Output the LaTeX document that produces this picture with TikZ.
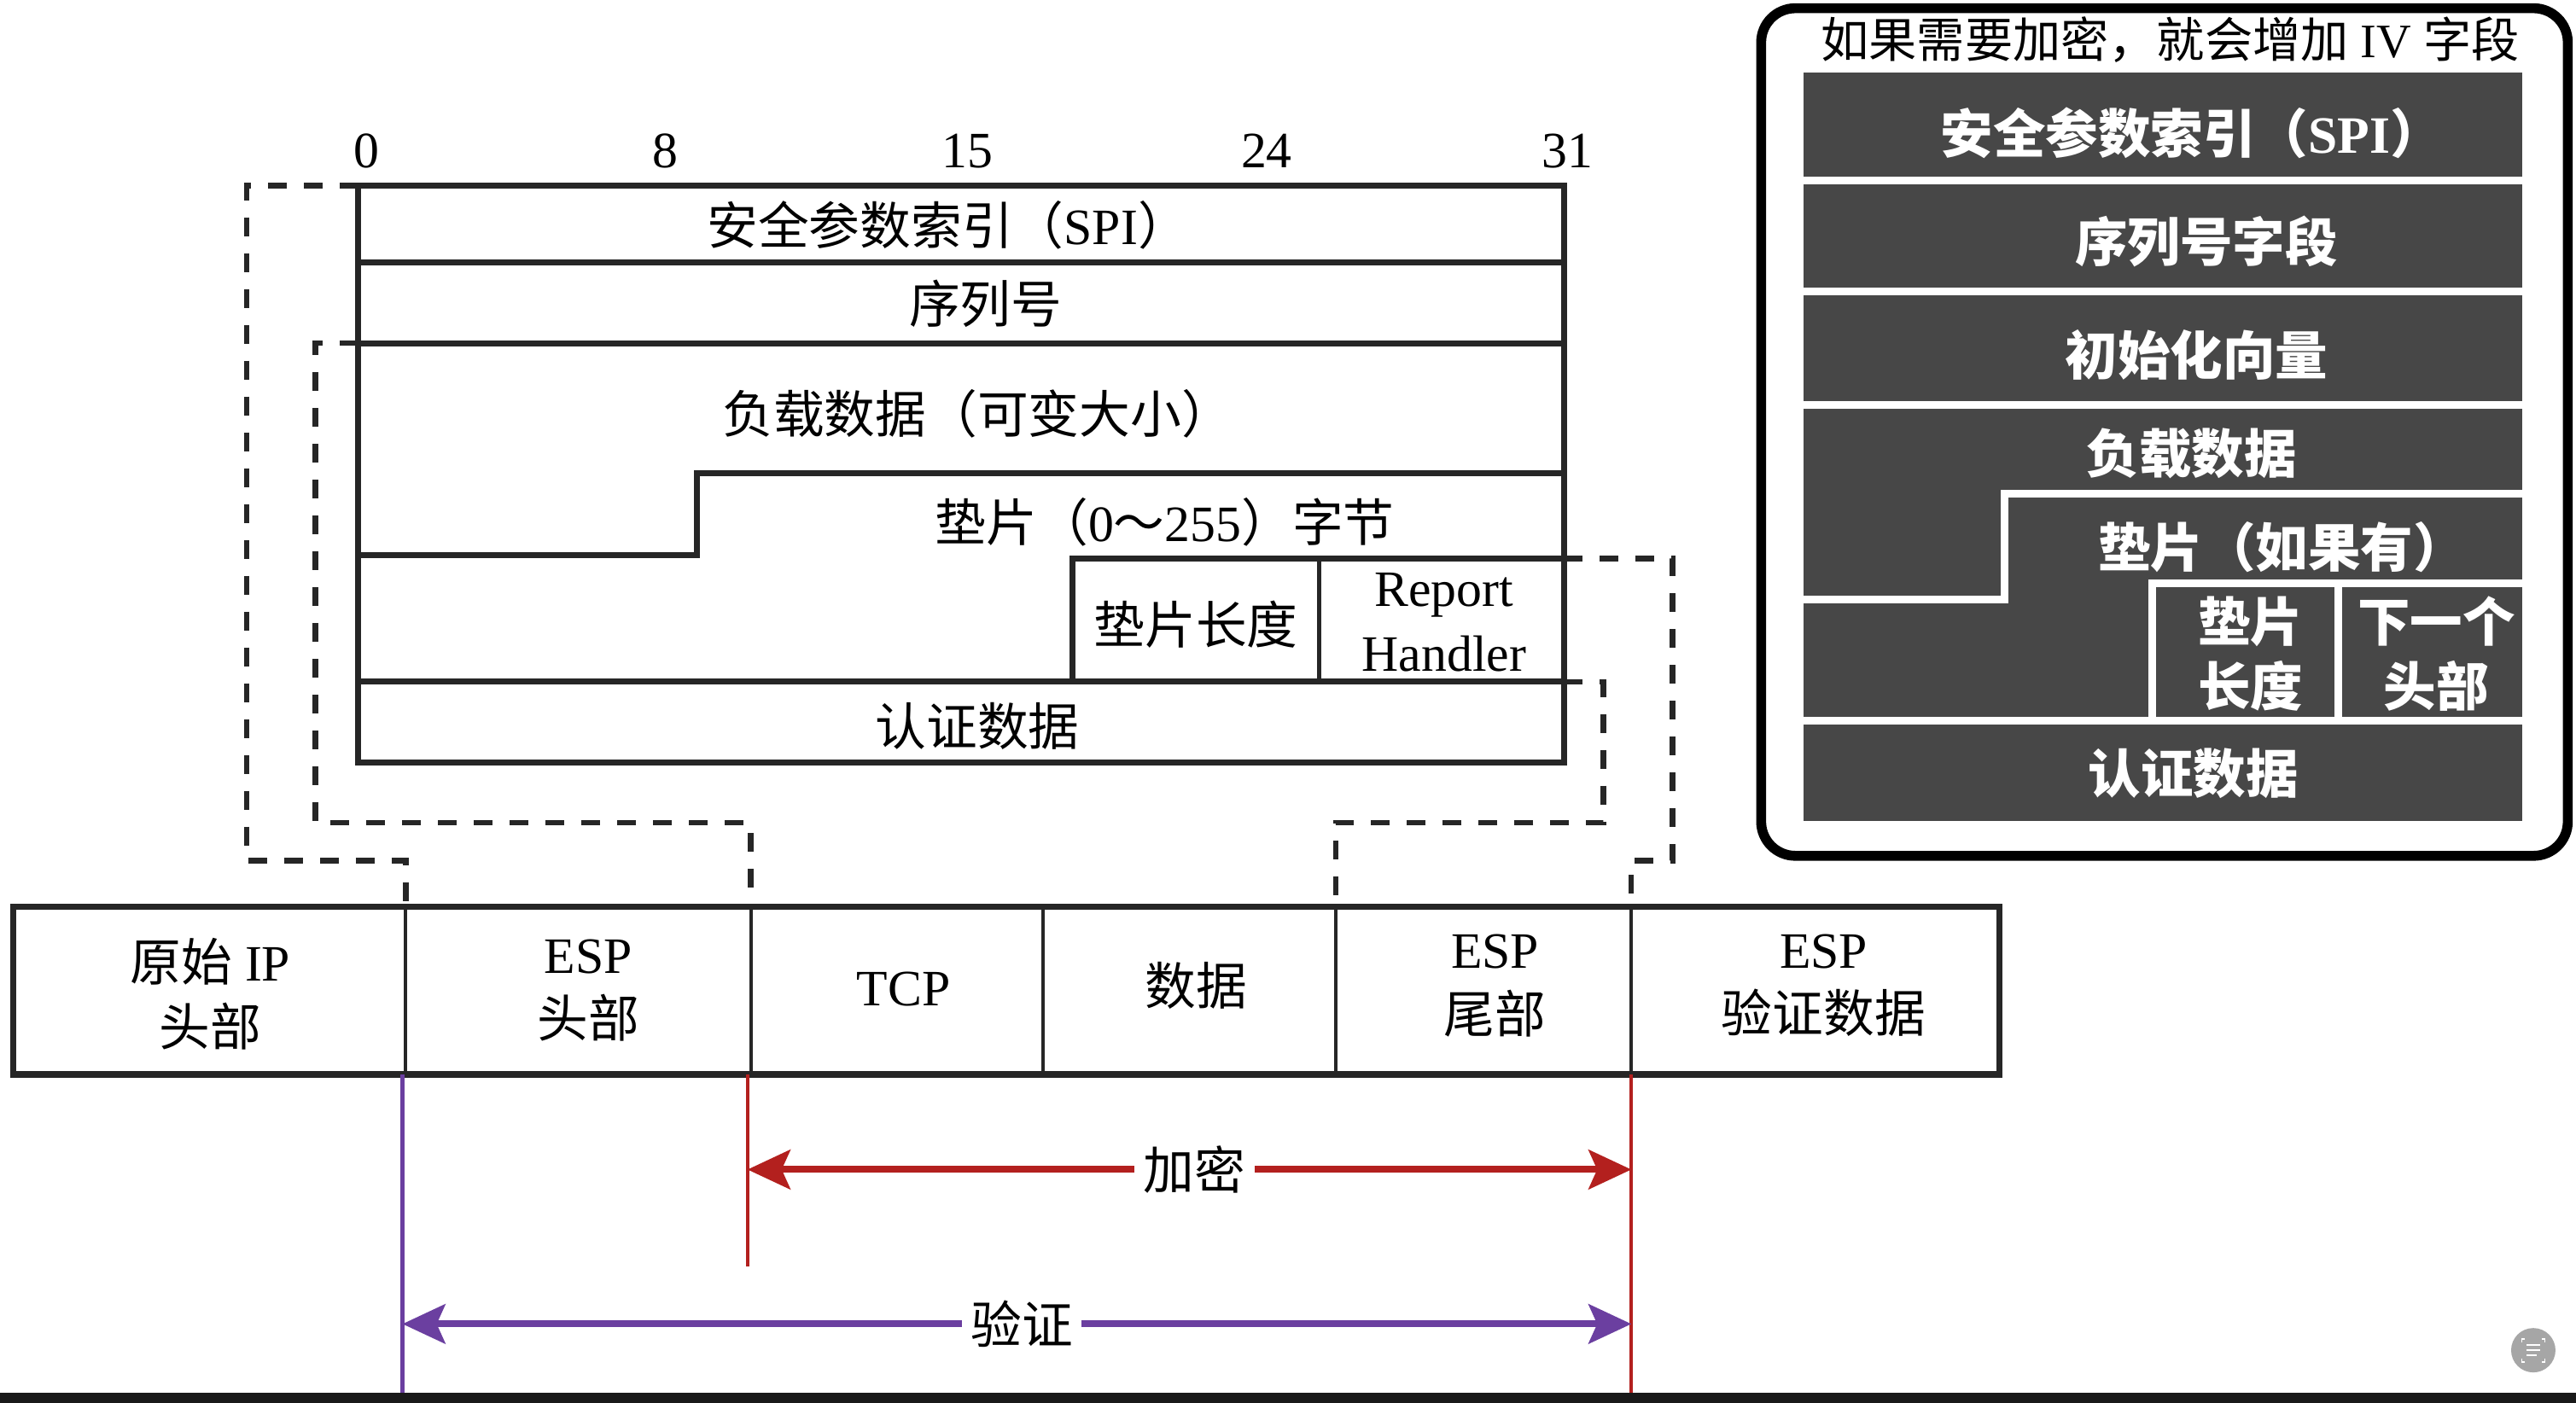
\documentclass[tikz,border=0pt]{standalone}
\usepackage{fontspec}
\setmainfont{Liberation Serif}
\newfontfamily\cjk{Noto Sans CJK SC}
\usetikzlibrary{arrows.meta}
\definecolor{panelgray}{HTML}{474747}
\definecolor{encred}{HTML}{B3201E}
\definecolor{authpurple}{HTML}{6B3FA0}
\definecolor{ink}{HTML}{262626}
\newcommand\ftxt{\fontsize{17pt}{21.5pt}\selectfont}
\newcommand\ftitle{\fontsize{16pt}{20pt}\selectfont}
\newcommand\fpanel{\fontsize{17.5pt}{21.5pt}\selectfont}
\newcommand\pcj[1]{{\cjk\bfseries #1}}
\begin{document}
\begin{tikzpicture}[x=0.19247mm,y=-0.19247mm,
  boxline/.style={line width=2pt, draw=ink},
  divline/.style={line width=1.1pt, draw=ink},
  conn/.style={line width=1.8pt, draw=ink, dash pattern=on 2.2mm off 2.0mm},
  lbl/.style={inner sep=0pt, font=\ftxt, align=center, text=black},
  plbl/.style={inner sep=0pt, font=\fpanel, align=center, text=white},
  sep/.style={draw=white, line width=2.6pt},
  dimarrow/.style={line width=2.3pt, {Stealth[length=5mm,width=4.6mm,inset=1mm]}-{Stealth[length=5mm,width=4.6mm,inset=1mm]}},
  guide/.style={line width=1.2pt}
]
\useasboundingbox (0,0) rectangle (1568,854);
\fill[white] (0,0) rectangle (1568,854);

% ---------------- ESP header format (top) ----------------
\draw[boxline] (218,113) rectangle (952,464);
\draw[boxline] (218,160) -- (952,160);
\draw[boxline] (218,209) -- (952,209);
\draw[boxline] (218,338) -- (424,338) -- (424,288) -- (952,288);
\draw[boxline] (653,415) -- (653,340) -- (952,340);
\draw[divline, line width=1.6pt] (803,340) -- (803,415);
\draw[boxline] (218,415) -- (952,415);

\node[lbl] (b0) at (223,92) {0};
\node[lbl] (b8) at (405,92) {8};
\node[lbl] (b15) at (589,92) {15};
\node[lbl] (b24) at (771,92) {24};
\node[lbl] (b31) at (954,92) {31};

\node[lbl] (spi) at (577,137) {{\cjk 安全参数索引（}SPI{\cjk ）}};
\node[lbl] (seq) at (600,185) {\cjk 序列号};
\node[lbl] (payload) at (595,252) {\cjk 负载数据（可变大小）};
\node[lbl] (pad) at (709,318) {{\cjk 垫片（}0{\cjk ～}255{\cjk ）字节}};
\node[lbl] (padlen) at (728,380) {\cjk 垫片长度};
\node[lbl] (rh) at (879,379) {Report\\Handler};
\node[lbl] (authd) at (595,442) {\cjk 认证数据};

% ---------------- packet row (bottom) ----------------
\coordinate (d1) at (247,552);
\coordinate (d2) at (457,552);
\coordinate (d3) at (635,552);
\coordinate (d4) at (813,552);
\coordinate (d5) at (993,552);
\draw[boxline, line width=2.2pt] (8,552) rectangle (1217,654);
\foreach \c in {d1,d2,d3,d4,d5} \draw[divline] (\c) -- ++(0,102);

\node[lbl] (ip) at (128,605) {{\cjk 原始} IP\\{\cjk 头部}};
\node[lbl] (esph) at (358,603) {ESP\\{\cjk 头部}};
\node[lbl] (tcp) at (550,602) {TCP};
\node[lbl] (data) at (728,600) {\cjk 数据};
\node[lbl] (espt) at (910,600) {ESP\\{\cjk 尾部}};
\node[lbl] (espa) at (1110,600) {ESP\\{\cjk 验证数据}};

% ---------------- dashed mapping connectors ----------------
\coordinate (tl) at (218,113);
\coordinate (sq) at (218,209);
\coordinate (pl) at (952,340);
\coordinate (ad) at (952,415);
\draw[conn] (tl) -- (150,113) -- (150,524) -- (247,524) -- (d1);
\draw[conn] (sq) -- (192,209) -- (192,501) -- (457,501) -- (d2);
\draw[conn] (ad) -- (976,415) -- (976,501) -- (813,501) -- (d4);
\draw[conn] (pl) -- (1018,340) -- (1018,524) -- (993,524) -- (d5);

% ---------------- encryption / authentication ranges ----------------
\coordinate (pv) at (245,654);
\coordinate (pvb) at (245,848);
\coordinate (rv1) at (455,654);
\coordinate (rv1b) at (455,771);
\coordinate (rv2) at (993,654);
\coordinate (rv2b) at (993,848);
\draw[authpurple, guide] (pv) -- (pvb);
\draw[encred, guide] (rv1) -- (rv1b);
\draw[encred, guide] (rv2) -- (rv2b);

\coordinate (encL) at (455,712);
\coordinate (encR) at (993,712);
\coordinate (autL) at (245,806);
\coordinate (autR) at (993,806);
\draw[encred, dimarrow] (encL) -- (encR);
\draw[authpurple, dimarrow] (autL) -- (autR);
\node[lbl, fill=white, inner xsep=3pt, inner ysep=2pt] (enc) at (727,712) {\cjk 加密};
\node[lbl, fill=white, inner xsep=3pt, inner ysep=2pt] (aut) at (622,806) {\cjk 验证};

% ---------------- right panel ----------------
\draw[line width=3.3pt, draw=black, rounded corners=4mm] (1072,5) rectangle (1563,521);
\node[inner sep=0pt, font=\ftitle, text=black] (ptitle) at (1321,24) {{\cjk 如果需要加密，就会增加} IV {\cjk 字段}};
\fill[panelgray] (1098,44) rectangle (1535,500);
\draw[sep] (1098,110) -- (1535,110);
\draw[sep] (1098,177.5) -- (1535,177.5);
\draw[sep] (1098,246.5) -- (1535,246.5);
\draw[sep] (1098,365) -- (1220,365) -- (1220,300.5) -- (1535,300.5);
\draw[sep] (1310,438.7) -- (1310,355) -- (1535,355);
\draw[sep] (1423.5,355) -- (1423.5,438.7);
\draw[sep] (1098,438.7) -- (1535,438.7);

\node[plbl] (pspi) at (1334,81) {\pcj{安全参数索引（}{\bfseries SPI}\pcj{）}};
\node[plbl] (pseq) at (1343,147) {\pcj{序列号字段}};
\node[plbl] (piv) at (1337,216) {\pcj{初始化向量}};
\node[plbl] (ppay) at (1334,276) {\pcj{负载数据}};
\node[plbl] (ppad) at (1389,333) {\pcj{垫片（如果有）}};
\node[plbl] (pplen) at (1370,398) {\pcj{垫片}\\\pcj{长度}};
\node[plbl] (pnext) at (1483,398) {\pcj{下一个}\\\pcj{头部}};
\node[plbl] (pauth) at (1335,471) {\pcj{认证数据}};

% ---------------- screen overlay elements ----------------
\fill[black!90] (0,848) rectangle (1568,854);
\fill[black!35] (1542,822) circle (13.5);
\draw[white, line width=0.5pt] (1535,817) -- (1535,815) -- (1537,815)
  (1547,815) -- (1549,815) -- (1549,817)
  (1549,827) -- (1549,829) -- (1547,829)
  (1537,829) -- (1535,829) -- (1535,827);
\draw[white, line width=0.6pt] (1538,819) -- (1546,819) (1538,822) -- (1546,822) (1538,825) -- (1544,825);
\end{tikzpicture}
\end{document}
